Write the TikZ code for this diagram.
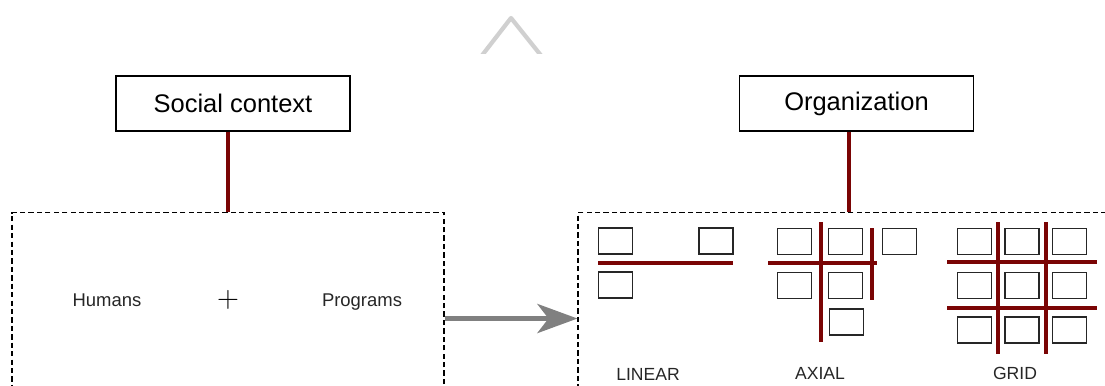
\documentclass[tikz,border=0pt]{standalone}
\usepackage{fontspec}
\setmainfont{Liberation Sans}
\usepackage{xcolor}
\usetikzlibrary{arrows.meta,positioning}

\definecolor{axisred}{RGB}{122,4,4}
\definecolor{caretgray}{RGB}{208,208,208}
\definecolor{flowgray}{RGB}{128,128,128}

\begin{document}
\begin{tikzpicture}[
  font=\fontsize{10.5}{12}\selectfont,
  titlebox/.style={draw, line width=0.8pt, minimum width=4.68cm, minimum height=1.1cm,
    font=\fontsize{14.5}{17}\selectfont},
  frame/.style={draw, dashed, dash pattern=on 3pt off 1.8pt, line width=0.6pt, anchor=north},
  cell/.style={draw, line width=0.8pt, draw=black!85, minimum width=0.68cm, minimum height=0.52cm, inner sep=0pt},
  axis/.style={draw=axisred, line width=2.6pt},
  term/.style={anchor=base, text=black!85},
  lbl/.style={font=\fontsize{10}{12}\selectfont, text=black!85},
  flow/.style={-{Stealth[length=0.8cm, width=0.58cm, inset=0.22cm]}, draw=flowgray, fill=flowgray, line width=3pt}
]
\useasboundingbox (0,0) rectangle (22.1,7.7);
\clip (0,0) rectangle (22.1,7.7);

% ── Top: caret mark ──
\begin{scope}
  \clip (9,6.62) rectangle (11.5,7.7);
  \draw[caretgray, line width=2.4pt, line join=round] (9.60,6.54) -- (10.22,7.34) -- (10.86,6.54);
\end{scope}

% ── Left: social context ──
\node[titlebox] (social) at (4.66, 5.63) {Social context};
\node[frame, minimum width=8.64cm, minimum height=4.24cm] (ctx) at (4.56, 3.46) {};

\node[term] (humans) at (2.14, 1.58) {Humans};
\node (plus) at (4.56, 1.70) {\fontsize{17}{17}\selectfont$+$};
\node[term] (programs) at (7.24, 1.58) {Programs};

% ── Right: organization ──
\node[titlebox] (org) at (17.13, 5.63) {Organization};
\node[frame, minimum width=10.84cm, minimum height=4.24cm] (orgs) at (16.98, 3.46) {};

% Linear
\node[cell] (l1) at (12.31, 2.88) {};
\node[cell] (l2) at (14.32, 2.88) {};
\node[cell] (l3) at (12.31, 2.00) {};
\draw[axis] (11.96, 2.44) -- (14.66, 2.44);
\node[lbl] (linear) at (12.96, 0.22) {LINEAR};

% Axial
\node[cell] (a1) at (15.89, 2.87) {};
\node[cell] (a2) at (16.91, 2.87) {};
\node[cell] (a3) at (17.99, 2.87) {};
\node[cell] (a4) at (15.89, 1.99) {};
\node[cell] (a5) at (16.91, 1.99) {};
\node[cell] (a6) at (16.93, 1.26) {};
\draw[axis] (16.42, 3.26) -- (16.42, 0.86);
\draw[axis] (15.36, 2.44) -- (17.54, 2.44);
\draw[axis] (17.44, 3.14) -- (17.44, 1.70);
\node[lbl] (axial) at (16.40, 0.24) {AXIAL};

% Grid
\foreach \i in {0,1,2}
  \foreach \j in {0,1,2}
    \node[cell] (g\i\j) at (19.49+0.95*\i, 2.87-0.885*\j) {};
\foreach \x in {19.96, 20.92}
  \draw[axis] (\x, 3.26) -- (\x, 0.62);
\foreach \y in {2.46, 1.54}
  \draw[axis] (18.94, \y) -- (21.94, \y);
\node[lbl] (grid) at (20.30, 0.24) {GRID};

% ── Connectors ──
\draw[axis] (ctx.north |- social.south) -- (ctx.north);
\draw[axis] (orgs.north |- org.south) -- (orgs.north);
\draw[flow] (ctx.east) -- (orgs.west);

\end{tikzpicture}
\end{document}
